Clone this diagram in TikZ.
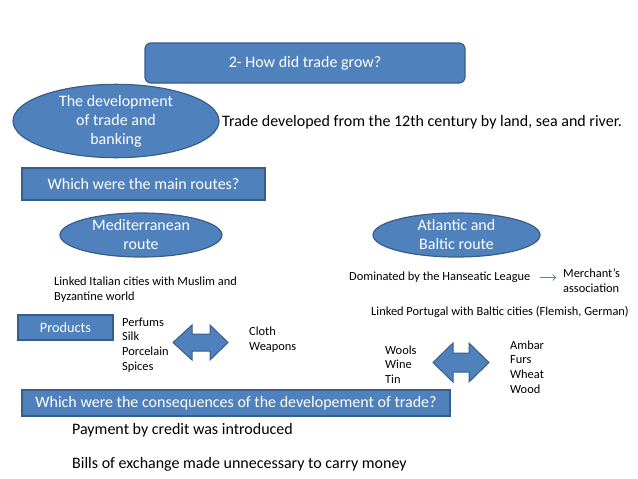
\documentclass[tikz,border=0pt]{standalone}
\usepackage{fontspec}
\setmainfont{Carlito}
\usetikzlibrary{shapes.geometric,arrows.meta}
\definecolor{boxfill}{HTML}{4F81BD}
\definecolor{boxline}{HTML}{385D8A}
\tikzset{
  bluebox/.style={draw=boxline, fill=boxfill, line width=1.2pt, text=white, inner sep=0pt},
  blueoval/.style={ellipse, draw=boxline, fill=boxfill, line width=1.2pt, text=white, inner sep=0pt, align=center},
  bigtxt/.style={font=\fontsize{16}{19}\selectfont},
  smalltxt/.style={font=\fontsize{12.4}{14.7}\selectfont, align=left, inner sep=0pt, anchor=west},
  plain/.style={inner sep=0pt, anchor=west},
}
\begin{document}
\begin{tikzpicture}[x=1pt,y=-1pt]
\useasboundingbox (0,0) rectangle (638,479);
% title
\node[bluebox, rounded corners=6pt, minimum width=320pt, minimum height=40pt, font=\fontsize{16}{19}\selectfont] (title) at (305,63) {2- How did trade grow?};
% development ellipse
\node[blueoval, minimum width=206pt, minimum height=68pt, bigtxt] (dev) at (116,121) {The development\\of trade and\\banking};
\node[plain, font=\fontsize{16}{19}\selectfont] (trade) at (222,122) {Trade developed from the 12th century by land, sea and river.};
% routes box
\node[bluebox, minimum width=243pt, minimum height=32pt, bigtxt] (routes) at (143.5,184) {Which were the main routes?};
% route ellipses
\node[blueoval, minimum width=162pt, minimum height=44pt, bigtxt] (med) at (141,235) {Mediterranean\\route};
\node[blueoval, minimum width=167pt, minimum height=44pt, bigtxt] (atl) at (456.5,235) {Atlantic and\\Baltic route};
% mediterranean texts
\node[smalltxt] (linked) at (54,290) {Linked Italian cities with Muslim and\\Byzantine world};
\node[bluebox, minimum width=95pt, minimum height=25pt, font=\fontsize{14.3}{16}\selectfont] (prod) at (65.5,327.5) {Products};
\node[smalltxt] (goods1) at (122,345) {Perfums\\Silk\\Porcelain\\Spices};
\node[smalltxt] (goods2) at (249,339.5) {Cloth\\Weapons};
% atlantic texts
\node[smalltxt] (hansa) at (349,277) {Dominated by the Hanseatic League};
\node[smalltxt] (merch) at (563,281) {Merchant's\\association};
\coordinate (sa) at (540,277.5);
\coordinate (sb) at (556,277.5);
\draw[boxfill, line width=0.6pt, -{Straight Barb[length=3pt,width=6pt]}] (sa) -- (sb);
\node[smalltxt] (portugal) at (371,312) {Linked Portugal with Baltic cities (Flemish, German)};
\node[smalltxt] (goods3) at (385,364.5) {Wools\\Wine\\Tin};
\node[smalltxt] (goods4) at (510,367) {Ambar\\Furs\\Wheat\\Wood};
% double arrows
\draw[draw=boxline, fill=boxfill, line width=1pt, line join=miter]
  (173,342.5) -- (192,325) -- (192,334) -- (210,334) -- (210,325) -- (228,342.5)
  -- (210,360) -- (210,351) -- (192,351) -- (192,360) -- cycle;
\draw[draw=boxline, fill=boxfill, line width=1pt, line join=miter]
  (433,362.5) -- (453,343) -- (453,353) -- (469,353) -- (469,343) -- (489,362.5)
  -- (469,382) -- (469,372) -- (453,372) -- (453,382) -- cycle;
% consequences
\node[bluebox, minimum width=428pt, minimum height=26pt, bigtxt] (cons) at (236,403) {Which were the consequences of the developement of trade?};
\node[plain, bigtxt] (pay) at (72,430) {Payment by credit was introduced};
\node[plain, bigtxt] (bills) at (72,464) {Bills of exchange made unnecessary to carry money};
\end{tikzpicture}
\end{document}
